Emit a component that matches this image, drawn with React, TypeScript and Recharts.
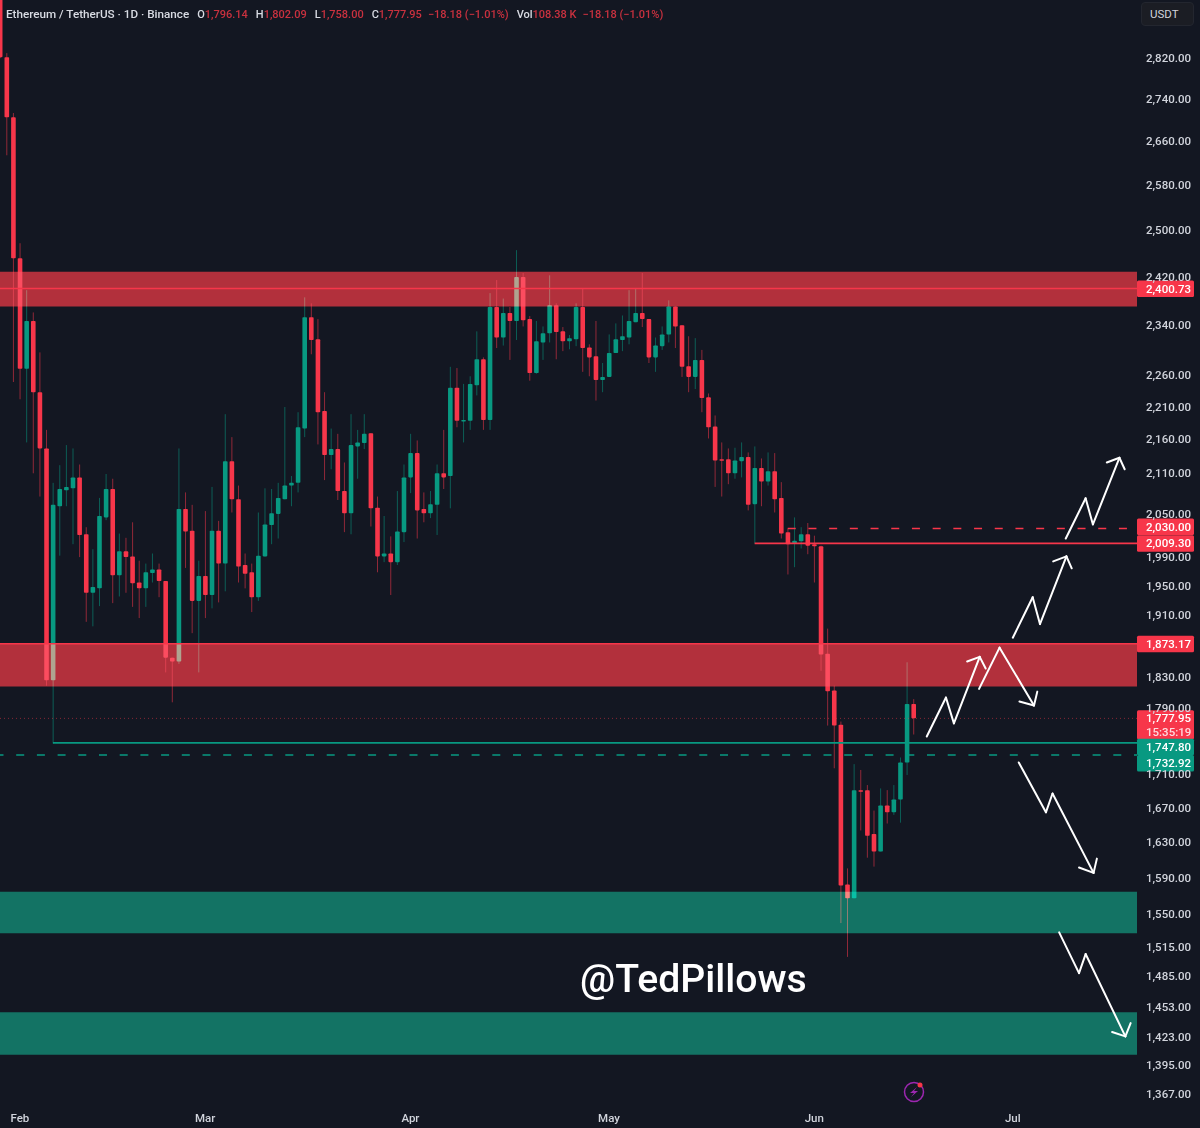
import { Bar, ComposedChart, ReferenceArea, ReferenceLine, XAxis, YAxis } from "recharts"

const BG = "#131722"
const RED = "#f7364a"
const GREEN = "#089981"
const AXIS_TEXT = "#d1d4dc"
const FONT = "Roboto, sans-serif"

const opens = [
  3010, 2822, 2706, 2452, 2270, 2347, 2233, 2147, 1826, 2062,
  2085, 2088, 2104, 2022, 1941, 1947, 2046, 2087, 1965, 1998,
  1991, 1955, 1947, 1968, 1973, 1957, 1855, 1850, 2058, 2027,
  1930, 1964, 1938, 2027, 1981, 2128, 2072, 1979, 1969, 1935,
  1991, 2035, 2051, 2072, 2092, 2096, 2177, 2353, 2317, 2204,
  2137, 2146, 2084, 2052, 2150, 2155, 2170, 2060, 1991, 1995,
  1983, 2025, 2104, 2140, 2058, 2052, 2064, 2110, 2106, 2240,
  2189, 2189, 2244, 2285, 2190, 2370, 2320, 2360, 2347, 2420,
  2350, 2263, 2312, 2327, 2373, 2330, 2314, 2317, 2370, 2304,
  2290, 2252, 2257, 2295, 2316, 2320, 2345, 2360, 2350, 2288,
  2306, 2325, 2371, 2340, 2274, 2257, 2284, 2225, 2180, 2131,
  2131, 2110, 2128, 2134, 2065, 2118, 2098, 2113, 2074, 2025,
  2009, 2012, 2022, 2008, 2005, 1860, 1813, 1770, 1583, 1568,
  1691, 1691, 1640, 1620, 1673, 1665, 1680, 1724, 1796,
]
const closes = [
  2822, 2706, 2452, 2270, 2347, 2233, 2147, 1826, 2064, 2087,
  2090, 2104, 2021, 1941, 1949, 2048, 2087, 1965, 1998, 1990,
  1954, 1947, 1969, 1973, 1957, 1855, 1850, 2058, 2026, 1930,
  1964, 1938, 2027, 1981, 2128, 2072, 1977, 1967, 1935, 1992,
  2036, 2052, 2074, 2092, 2096, 2179, 2353, 2316, 2202, 2137,
  2146, 2084, 2052, 2152, 2156, 2169, 2059, 1991, 1995, 1983,
  2026, 2104, 2140, 2056, 2052, 2065, 2110, 2104, 2240, 2189,
  2190, 2246, 2285, 2190, 2370, 2320, 2360, 2347, 2420, 2348,
  2263, 2314, 2327, 2373, 2329, 2314, 2319, 2370, 2303, 2288,
  2252, 2257, 2295, 2317, 2322, 2347, 2360, 2350, 2288, 2307,
  2325, 2371, 2338, 2273, 2257, 2284, 2224, 2179, 2129, 2129,
  2110, 2129, 2134, 2064, 2118, 2098, 2113, 2072, 2023, 2008,
  2013, 2022, 2006, 2005, 1859, 1812, 1769, 1582, 1568, 1691,
  1690, 1638, 1620, 1673, 1665, 1680, 1724, 1796, 1778,
]
const highs = [
  3020, 2830, 2714, 2478, 2398, 2361, 2296, 2175, 2096, 2122,
  2152, 2147, 2123, 2032, 2001, 2074, 2109, 2102, 2023, 2017,
  2039, 1985, 1981, 1995, 1981, 1957, 1855, 2147, 2082, 2064,
  1985, 2055, 2090, 2041, 2199, 2164, 2092, 1995, 1981, 2053,
  2088, 2087, 2096, 2210, 2106, 2202, 2386, 2376, 2350, 2233,
  2177, 2169, 2126, 2199, 2175, 2199, 2170, 2076, 2048, 2019,
  2084, 2123, 2169, 2159, 2082, 2084, 2123, 2175, 2273, 2271,
  2246, 2258, 2330, 2288, 2393, 2415, 2384, 2370, 2466, 2427,
  2355, 2347, 2338, 2423, 2376, 2337, 2324, 2376, 2400, 2309,
  2347, 2279, 2325, 2343, 2356, 2398, 2400, 2427, 2350, 2320,
  2338, 2381, 2371, 2340, 2322, 2319, 2300, 2231, 2197, 2156,
  2147, 2148, 2156, 2141, 2150, 2132, 2141, 2140, 2097, 2030,
  2046, 2032, 2038, 2020, 2006, 1893, 1819, 1774, 1601, 1722,
  1715, 1697, 1667, 1693, 1691, 1697, 1730, 1849, 1802,
]
const lows = [
  2820, 2635, 2249, 2222, 2156, 2110, 2076, 1819, 1747, 1992,
  2062, 2008, 1990, 1902, 1896, 1923, 2042, 1927, 1936, 1941,
  1922, 1907, 1922, 1955, 1935, 1836, 1798, 1847, 1975, 1887,
  1836, 1907, 1920, 1928, 1943, 2053, 1955, 1947, 1915, 1930,
  1991, 2008, 2016, 2072, 2062, 2082, 2164, 2293, 2153, 2100,
  2116, 2071, 2025, 2022, 2102, 2146, 2033, 1969, 1983, 1938,
  1979, 2011, 2081, 2016, 2039, 2045, 2021, 2087, 2059, 2179,
  2156, 2175, 2228, 2175, 2175, 2303, 2307, 2284, 2316, 2338,
  2251, 2262, 2284, 2312, 2285, 2298, 2301, 2306, 2265, 2258,
  2220, 2233, 2257, 2295, 2298, 2309, 2345, 2337, 2279, 2265,
  2300, 2312, 2303, 2257, 2233, 2238, 2202, 2162, 2090, 2076,
  2094, 2102, 2104, 2056, 2009, 2062, 2092, 2053, 2016, 1966,
  1976, 2002, 1994, 1955, 1838, 1769, 1717, 1541, 1505, 1568,
  1644, 1613, 1603, 1620, 1652, 1662, 1653, 1709, 1758,
]

const priceTicks = [
  2820, 2740, 2660, 2580, 2500, 2420, 2340, 2260, 2210, 2160, 2110, 2050, 1990, 1950,
  1910, 1830, 1790, 1710, 1670, 1630, 1590, 1550, 1515, 1485, 1453, 1423, 1395, 1367,
]
const monthTicks = [3, 31, 62, 92, 123, 153]
const monthLabels = ["Feb", "Mar", "Apr", "May", "Jun", "Jul"]

const redZones = [[2371, 2429], [1818, 1873]]
const greenZones = [[1530, 1575], [1405.6, 1448]]

// [bar index, price] per stroke
const arrows = [
  [[140, 1755.5], [142.9, 1804], [144.1, 1771.7], [148, 1856]],
  [[146.1, 1850], [148, 1856], [148.9, 1841]],
  [[147.9, 1815], [151, 1868], [156.2, 1794]],
  [[154, 1799], [156.2, 1794], [156.7, 1811.5]],
  [[153, 1881], [156, 1935], [157.1, 1899], [161.1, 1991]],
  [[159.1, 1984], [161.1, 1991], [161.9, 1974.5]],
  [[161, 2016], [164, 2073.5], [165.1, 2036], [169.1, 2133]],
  [[167.2, 2126], [169.1, 2133], [169.9, 2116]],
  [[153.9, 1724], [158, 1665], [159, 1687], [165.2, 1596]],
  [[163, 1602], [165.2, 1596], [165.7, 1612]],
  [[160, 1531], [163, 1488], [164, 1508], [170, 1423.7]],
  [[168, 1428], [170, 1423.7], [170.8, 1437]],
]

const X_MAX = 171.76
const Y_MIN = 1358
const Y_MAX = 2937
const data = opens.map((open, i) => ({ i, open, close: closes[i], range: [lows[i], highs[i]] }))

function Candle(props: any) {
  const { x, y, width, height, payload } = props
  const { open, close, range } = payload
  const [low, high] = range
  const cx = x + width / 2
  // position inside the bar follows the log axis
  const at = (v: number) => y + (height * Math.log(high / v)) / Math.log(high / low)
  const top = at(Math.max(open, close))
  const bottom = at(Math.min(open, close))
  const color = close >= open ? GREEN : RED
  return (
    <g>
      <line x1={cx} x2={cx} y1={y} y2={y + height} stroke={color} strokeWidth={1} strokeOpacity={0.55} />
      <rect x={cx - 2.3} y={top} width={4.6} height={Math.max(bottom - top, 1.5)} rx={0.8} fill={color} />
    </g>
  )
}

function PriceTag(props: any) {
  const { viewBox, text, sub, fill, dy = 0 } = props
  const cy = viewBox.y + dy
  const x = viewBox.x + viewBox.width
  return (
    <g fontFamily={FONT} fontSize={11.5} fontWeight={500} textAnchor="start">
      <rect x={x} y={cy - 8} width={57} height={sub ? 29 : 16.5} rx={1.5} fill={fill} />
      <text x={x + 9} y={cy + 4} fill="#fff">{text}</text>
      {sub && <text x={x + 9} y={cy + 18} fill="#ffd9dd">{sub}</text>}
    </g>
  )
}

function HeaderValue({ k, v }: { k: string; v: string }) {
  return (
    <span style={{ marginLeft: 8 }}>
      {k}
      <span style={{ color: "#c9313f" }}>{v}</span>
    </span>
  )
}

export default function App() {
  return (
    <div style={{ position: "absolute", left: 0, top: 0, width: 1200, height: 1128, background: BG, overflow: "hidden" }}>
      <ComposedChart width={1200} height={1128} data={data} margin={{ top: 0, right: 0, bottom: 0, left: 0 }}>
        {/* opaque backdrop so the zones' screen blend has something to work against */}
        <ReferenceArea x1={0} x2={X_MAX} y1={Y_MIN} y2={Y_MAX} fill={BG} fillOpacity={1} stroke="none" zIndex={-500} />
        <XAxis
          dataKey="i"
          type="number"
          domain={[0, X_MAX]}
          ticks={monthTicks}
          allowDataOverflow
          interval={0}
          height={24}
          axisLine={false}
          tickLine={false}
          tickMargin={4}
          tick={{ fill: AXIS_TEXT, fontSize: 11.5, fontFamily: FONT, fontWeight: 500 }}
          tickFormatter={(v) => monthLabels[monthTicks.indexOf(v)]}
        />
        <YAxis
          orientation="right"
          scale="log"
          domain={[Y_MIN, Y_MAX]}
          allowDataOverflow
          ticks={priceTicks}
          interval={0}
          width={63}
          axisLine={false}
          tickLine={false}
          tickSize={0}
          tickMargin={9}
          tick={{ fill: AXIS_TEXT, fontSize: 11.5, fontFamily: FONT, fontWeight: 500, textAnchor: "start", dy: -0.5 }}
          tickFormatter={(v) => v.toLocaleString("en-US", { minimumFractionDigits: 2 })}
        />
        <Bar dataKey="range" barSize={5} shape={<Candle />} isAnimationActive={false} />

        {redZones.map(([y1, y2]) => (
          <ReferenceArea key={y1} x1={0} x2={X_MAX} y1={y1} y2={y2} fill="rgb(172,28,30)" fillOpacity={1} stroke="none" zIndex={350} style={{ mixBlendMode: "screen" }} />
        ))}
        {greenZones.map(([y1, y2]) => (
          <ReferenceArea key={y1} x1={0} x2={X_MAX} y1={y1} y2={y2} fill="rgb(0,101,76)" fillOpacity={1} stroke="none" zIndex={350} style={{ mixBlendMode: "screen" }} />
        ))}

        <ReferenceLine y={1777.95} zIndex={360} stroke={RED} strokeOpacity={0.5} strokeDasharray="1 3" label={<PriceTag text="1,777.95" sub="15:35:19" fill={RED} />} />
        <ReferenceLine y={2400.73} zIndex={360} stroke={RED} strokeWidth={1.5} label={<PriceTag text="2,400.73" fill={RED} />} />
        <ReferenceLine y={1873.17} zIndex={360} stroke={RED} strokeWidth={1.5} label={<PriceTag text="1,873.17" fill={RED} />} />
        <ReferenceLine segment={[{ x: 119, y: 2030 }, { x: X_MAX, y: 2030 }]} zIndex={360} stroke={RED} strokeWidth={1.5} strokeDasharray="8 12.7" label={<PriceTag text="2,030.00" fill={RED} dy={-2} />} />
        <ReferenceLine segment={[{ x: 114, y: 2009.3 }, { x: X_MAX, y: 2009.3 }]} zIndex={360} stroke={RED} strokeWidth={1.8} label={<PriceTag text="2,009.30" fill={RED} />} />
        <ReferenceLine segment={[{ x: 8, y: 1747.8 }, { x: X_MAX, y: 1747.8 }]} zIndex={360} stroke={GREEN} strokeWidth={1.8} label={<PriceTag text="1,747.80" fill={GREEN} dy={4} />} />
        <ReferenceLine y={1732.92} zIndex={360} stroke={GREEN} strokeWidth={1.5} strokeDasharray="8 12.7" strokeDashoffset={5} label={<PriceTag text="1,732.92" fill={GREEN} dy={8} />} />

        {arrows.map((path, a) =>
          path.slice(1).map((p, s) => (
            <ReferenceLine
              key={`${a}-${s}`}
              segment={[{ x: path[s][0], y: path[s][1] }, { x: p[0], y: p[1] }]}
              zIndex={370}
              stroke="#fff"
              strokeWidth={2}
              strokeLinecap="round"
            />
          ))
        )}
      </ComposedChart>

      <div style={{ position: "absolute", left: 6, top: 7, fontFamily: FONT, fontSize: 11, fontWeight: 500, color: "#d8dbe3", whiteSpace: "nowrap" }}>
        <span style={{ fontSize: 11.7 }}>Ethereum / TetherUS · 1D · Binance</span>
        <HeaderValue k="O" v="1,796.14" />
        <HeaderValue k="H" v="1,802.09" />
        <HeaderValue k="L" v="1,758.00" />
        <HeaderValue k="C" v="1,777.95" />
        <span style={{ color: "#c9313f", marginLeft: 6 }}>−18.18 (−1.01%)</span>
        <HeaderValue k="Vol" v="108.38 K" />
        <span style={{ color: "#c9313f", marginLeft: 6 }}>−18.18 (−1.01%)</span>
      </div>

      <div style={{ position: "absolute", left: 1141, top: 2, width: 53, height: 24, boxSizing: "border-box", borderRadius: 4, background: "#1b1d24", border: "1px solid #23262f", fontFamily: FONT, fontSize: 11.5, color: AXIS_TEXT, lineHeight: "22px", paddingLeft: 8 }}>
        USDT
      </div>

      <div style={{ position: "absolute", left: 580, top: 956, fontFamily: FONT, fontSize: 39.2, fontWeight: 500, color: "#fff", whiteSpace: "nowrap" }}>
        @TedPillows
      </div>

      <svg style={{ position: "absolute", left: 900, top: 1079 }} width={28} height={28}>
        <circle cx={14} cy={13} r={9.5} fill="none" stroke="#9c27b0" strokeWidth={1.5} />
        <path d="M17 8 L10 14 L14 14 L11 18 L18 12 L14 12 Z" fill="#9c27b0" />
        <circle cx={20} cy={6} r={2.5} fill={RED} />
      </svg>
    </div>
  )
}
